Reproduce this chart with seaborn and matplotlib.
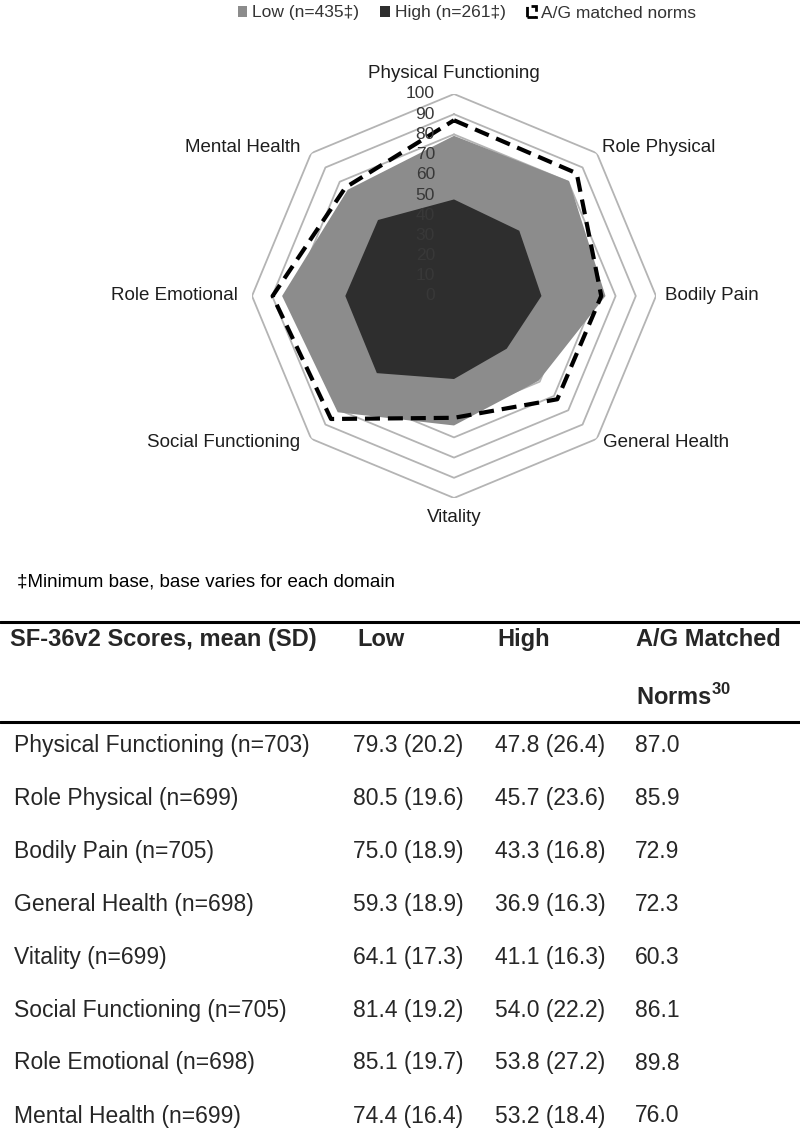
import numpy as np
import pandas as pd
import matplotlib
matplotlib.use("Agg")
import matplotlib.pyplot as plt
from matplotlib.patches import Patch
import seaborn as sns

# ---------------- data ----------------
domains = ["Physical Functioning", "Role Physical", "Bodily Pain", "General Health",
           "Vitality", "Social Functioning", "Role Emotional", "Mental Health"]
n_values = [703, 699, 705, 698, 699, 705, 698, 699]
low_mean = [79.3, 80.5, 75.0, 59.3, 64.1, 81.4, 85.1, 74.4]
low_sd = [20.2, 19.6, 18.9, 18.9, 17.3, 19.2, 19.7, 16.4]
high_mean = [47.8, 45.7, 43.3, 36.9, 41.1, 54.0, 53.8, 53.2]
high_sd = [26.4, 23.6, 16.8, 16.3, 16.3, 22.2, 27.2, 18.4]
norms = [87.0, 85.9, 72.9, 72.3, 60.3, 86.1, 89.8, 76.0]
radial_ticks = [0, 10, 20, 30, 40, 50, 60, 70, 80, 90, 100]
legend_labels = ["Low (n=435\u2021)", "High (n=261\u2021)", "A/G matched norms"]
col_headers = ["SF-36v2 Scores, mean (SD)", "Low", "High", "A/G Matched"]
footnote = "\u2021Minimum base, base varies for each domain"

sns.set_theme(style="white")
plt.rcParams["font.family"] = ["Liberation Sans", "DejaVu Sans"]
plt.rcParams["mathtext.fontset"] = "custom"
plt.rcParams["mathtext.rm"] = "Liberation Sans"
plt.rcParams["mathtext.bf"] = "Liberation Sans:bold"

W, H = 800, 1135
fig = plt.figure(figsize=(W / 100, H / 100), dpi=100)
fig.patch.set_facecolor("white")

# ---------------- radar ----------------
cx, cy, R = 454, 296, 202
ax = fig.add_axes([(cx - R) / W, 1 - (cy + R) / H, 2 * R / W, 2 * R / H], projection="polar")
ax.set_theta_zero_location("N")
ax.set_theta_direction(-1)
ax.set_ylim(0, 100)
ax.grid(False)
ax.spines["polar"].set_visible(False)
ax.set_xticks([])
ax.set_yticks([])
ax.set_facecolor("none")

k = len(domains)
theta = np.linspace(0, 2 * np.pi, k, endpoint=False)
th_c = np.append(theta, theta[0])

def closed(v):
    return np.append(np.asarray(v, float), v[0])

for v in radial_ticks[1:]:
    ax.plot(th_c, np.full(k + 1, v), color="#b4b4b4", lw=1.3, zorder=1)

ax.fill(th_c, closed(low_mean), color="#8c8c8c", lw=0, zorder=2)
ax.fill(th_c, closed(high_mean), color="#2e2e2e", lw=0, zorder=3)
df_norm = pd.DataFrame({"theta": th_c, "value": closed(norms)})
sns.lineplot(data=df_norm, x="theta", y="value", sort=False, estimator=None, ax=ax,
             color="black", lw=3, linestyle=(0, (3.6, 1.9)), zorder=4, legend=False)
ax.set_xlabel("")
ax.set_ylabel("")
ax.set_ylim(0, 100)

for v in radial_ticks:
    ax.annotate(str(v), xy=(0, v), xytext=(-19, 0), textcoords="offset pixels",
                ha="right", va="center", fontsize=12.5, color="#383838", zorder=5,
                annotation_clip=False)

label_offsets = [(0, 21, "center"), (5, 6, "left"), (9, 0, "left"), (6, -4, "left"),
                 (0, -19, "center"), (-11, -4, "right"), (-14, 0, "right"), (-11, 6, "right")]
for t, name, (dx, dy, ha) in zip(theta, domains, label_offsets):
    ax.annotate(name, xy=(t, 100), xytext=(dx, dy), textcoords="offset pixels",
                ha=ha, va="center", fontsize=13.5, color="#1e1e1e", annotation_clip=False)

handles = [Patch(facecolor="#8c8c8c", edgecolor="none"),
           Patch(facecolor="#2e2e2e", edgecolor="none"),
           Patch(facecolor="white", edgecolor="black", linestyle="--", lw=2)]
fig.legend(handles, legend_labels, ncol=3, loc="center",
           bbox_to_anchor=(467 / W, 1 - 13 / H), frameon=False, fontsize=12.5,
           handlelength=0.55, handleheight=0.55, handletextpad=0.3, columnspacing=1.2,
           labelcolor="#333333")

# ---------------- table ----------------
top = 560
axt = fig.add_axes([0, 0, 1, 1 - top / H])
axt.set_xlim(0, W)
axt.set_ylim(H, top)
axt.axis("off")

axt.text(17, 582, footnote, fontsize=13.5, va="center", ha="left", color="black")
axt.axhline(622, color="black", lw=2.2)
axt.axhline(722, color="black", lw=2.2)

col_x = [10, 357, 497, 636]
for x, h in zip(col_x, col_headers):
    axt.text(x, 639, h, fontsize=17, fontweight="bold", va="center", ha="left")
axt.text(col_x[3], 697, r"Norms$^{\mathbf{30}}$", fontsize=17, fontweight="bold",
         va="center", ha="left")

data_x = [14, 353, 495, 635]
for i, d in enumerate(domains):
    y = 745 + 53 * i
    axt.text(data_x[0], y, f"{d} (n={n_values[i]})", fontsize=16.5, va="center", ha="left")
    axt.text(data_x[1], y, f"{low_mean[i]:.1f} ({low_sd[i]:.1f})", fontsize=16.5, va="center", ha="left")
    axt.text(data_x[2], y, f"{high_mean[i]:.1f} ({high_sd[i]:.1f})", fontsize=16.5, va="center", ha="left")
    axt.text(data_x[3], y, f"{norms[i]:.1f}", fontsize=16.5, va="center", ha="left")

fig.savefig("out.png", dpi=100, facecolor="white")
